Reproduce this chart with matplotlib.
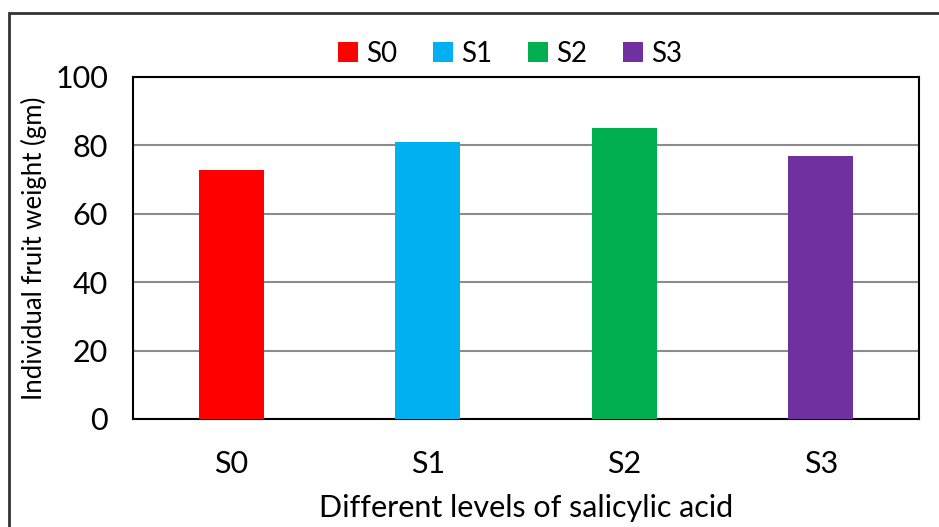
import matplotlib.pyplot as plt
from matplotlib.patches import Rectangle

plt.rcParams['font.family'] = ['Lato', 'DejaVu Sans']

levels = ['S0', 'S1', 'S2', 'S3']
weights = [72.9, 80.9, 85.0, 76.8]
colors = ['#FF0000', '#00B0F0', '#00B050', '#7030A0']

fig = plt.figure(figsize=(9.39, 5.27), dpi=100)
ax = fig.add_axes([133/939, 1 - 419/527, (919-133)/939, (419-77)/527])

# one bar per level so each gets its own legend entry
for i, (lab, w, c) in enumerate(zip(levels, weights, colors)):
    ax.bar(i, w, width=0.33, color=c, label=lab, zorder=3)

ax.set_xlim(-0.5, 3.5)
ax.set_ylim(0, 100)
ax.set_yticks([0, 20, 40, 60, 80, 100])
ax.set_xticks(range(4))
ax.set_xticklabels(levels)
ax.yaxis.grid(True, color='#8c8c8c', linewidth=1.5, zorder=0)
ax.tick_params(axis='both', length=0, labelsize=22)
ax.tick_params(axis='x', pad=22)
ax.tick_params(axis='y', pad=18)
for s in ax.spines.values():
    s.set_linewidth(1.5)
    s.set_color('black')

ax.set_xlabel('Different levels of salicylic acid', fontsize=22, labelpad=12)
ax.set_ylabel('Individual fruit weight (gm)', fontsize=18.5, labelpad=6)

ax.legend(loc='lower center', bbox_to_anchor=(0.48, 0.99), ncol=4, frameon=False,
          fontsize=20, handlelength=0.7, handleheight=0.7, handletextpad=0.3,
          columnspacing=1.3, borderpad=0)

# outer chart frame
fig.patches.append(Rectangle((9/939, -0.05), 1.0, 1 - 13/527 + 0.05,
                             transform=fig.transFigure, fill=False,
                             edgecolor='#333333', linewidth=2))

fig.savefig('out.png', dpi=100)
